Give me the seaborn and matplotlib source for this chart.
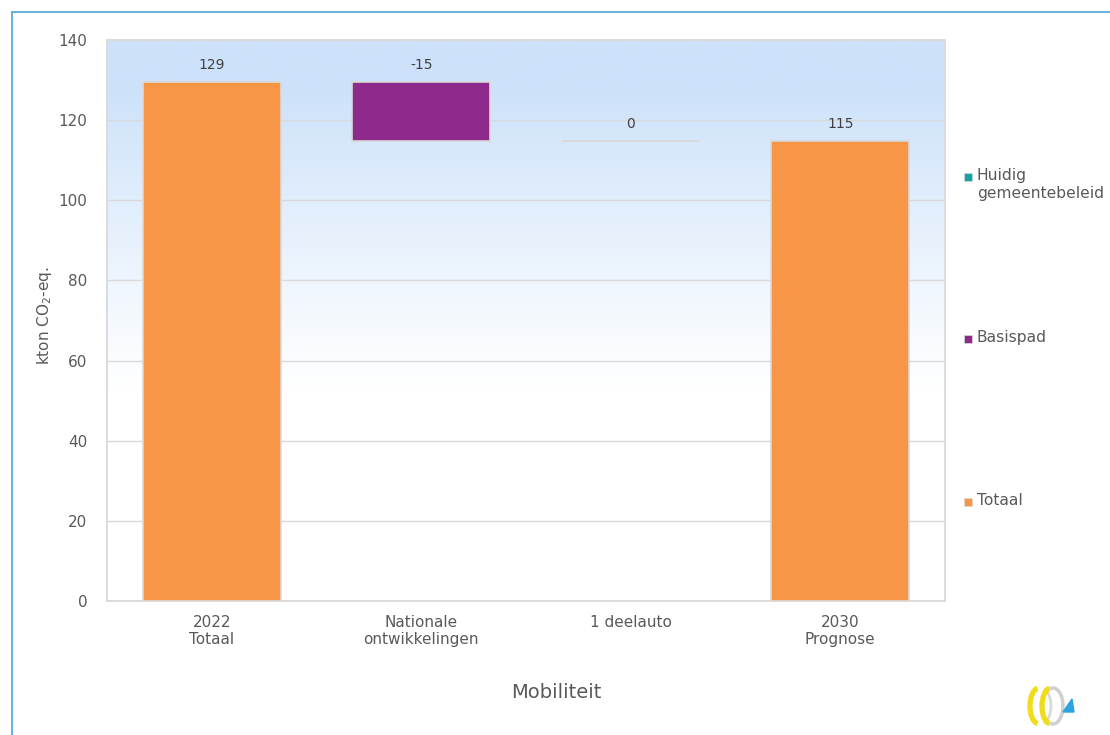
import numpy as np
import pandas as pd
import matplotlib
matplotlib.use("Agg")
import matplotlib.pyplot as plt
import seaborn as sns
from matplotlib.patches import Rectangle, Arc, Polygon
from matplotlib.lines import Line2D
from matplotlib.colors import LinearSegmentedColormap

# Waterfall data (kton CO2-eq.)
categories = ["2022\nTotaal", "Nationale\nontwikkelingen", "1 deelauto", "2030\nPrognose"]
series = ["Totaal", "Basispad", "Huidig gemeentebeleid", "Totaal"]
start_values = [0.0, 129.4, 114.8, 0.0]
delta_values = [129.4, -14.6, 0.0, 114.8]
y_ticks = [0, 20, 40, 60, 80, 100, 120, 140]
legend_labels = ["Huidig\ngemeentebeleid", "Basispad", "Totaal"]
legend_series = ["Huidig gemeentebeleid", "Basispad", "Totaal"]

palette = {
    "Totaal": "#f79646",
    "Basispad": "#8e2a8c",
    "Huidig gemeentebeleid": "#17a3a3",
}
TEXT = "#595959"
GRID = "#d9d9d9"

W, H = 1110, 735
sns.set_theme(style="white")
plt.rcParams["font.family"] = ["DejaVu Sans"]

fig = plt.figure(figsize=(W / 100, H / 100), dpi=100)
fig.patch.set_facecolor("white")


def px(x, y):
    return x / W, 1 - y / H


left, top = px(107, 40)
right, bottom = px(945, 601)
ax = fig.add_axes([left, bottom, right - left, top - bottom])

df = pd.DataFrame({"categorie": categories, "reeks": series,
                   "start": start_values, "delta": delta_values})

# floating bars, one per step
for _, row in df.iterrows():
    sns.barplot(x=[row["categorie"]], y=[row["delta"]], order=categories,
                color=palette[row["reeks"]], saturation=1, bottom=row["start"],
                width=0.66, edgecolor=GRID, linewidth=1.2, errorbar=None,
                ax=ax, zorder=3)

# value labels above each step
for i, row in df.iterrows():
    top_val = max(row["start"], row["start"] + row["delta"])
    ax.annotate(f"{round(row['delta']):d}", (i, top_val), xytext=(0, 12.5),
                textcoords="offset points", ha="center", va="center",
                fontsize=10, color="#404040", zorder=5)

# sky gradient behind the plot area
sky = LinearSegmentedColormap.from_list("sky", ["#ffffff", "#cde2fa"])
vals = np.linspace(0, 140, 512).reshape(-1, 1)
grad = np.clip((vals - 52) / (128 - 52), 0, 1) ** 1.1
ax.imshow(grad, extent=[-0.5, 3.5, 0, 140], origin="lower", aspect="auto",
          cmap=sky, vmin=0, vmax=1, zorder=0, interpolation="bilinear")

ax.set_xlim(-0.5, 3.5)
ax.set_ylim(0, 140)
ax.set_yticks(y_ticks)
ax.set_yticklabels([str(t) for t in y_ticks])
ax.set_axisbelow(True)
ax.yaxis.grid(True, color=GRID, linewidth=1.0)
ax.xaxis.grid(False)
for s in ax.spines.values():
    s.set_color(GRID)
    s.set_linewidth(1.3)
ax.set_xlabel("")
ax.set_ylabel("")
ax.tick_params(axis="y", length=0, pad=14, labelsize=11, labelcolor=TEXT)
ax.tick_params(axis="x", which="major", length=0, pad=10, labelsize=11, labelcolor=TEXT)
ax.set_xticks([-0.5, 0.5, 1.5, 2.5, 3.5], minor=True)
ax.tick_params(axis="x", which="minor", length=5, width=1.3, color=GRID)

# axis titles
fig.text(*px(45, 316), "kton CO$_2$-eq.", rotation=90, ha="center", va="center",
         fontsize=11, color=TEXT)
fig.text(*px(556, 693), "Mobiliteit", ha="center", va="center", fontsize=14, color=TEXT)

# legend entries spread along the right side
legend_y = [177, 339, 502]
for lab, ser, yy in zip(legend_labels, legend_series, legend_y):
    x0, y0 = px(964, yy + 4)
    fig.patches.append(Rectangle((x0, y0), 8 / W, 8 / H, transform=fig.transFigure,
                                 facecolor=palette[ser], edgecolor=GRID, linewidth=0.5))
    fig.text(*px(977, yy - 9), lab, ha="left", va="top", fontsize=11.2,
             color=TEXT, linespacing=1.25)

# frame lines
bx, by = px(12, 12)
fig.add_artist(Line2D([bx, bx], [0, by], transform=fig.transFigure, color="#4aa8d8", lw=1.2))
fig.add_artist(Line2D([bx, 1], [by, by], transform=fig.transFigure, color="#4aa8d8", lw=1.2))

# small logo mark, bottom right
lx0, ly0 = px(1015, 730)
lx1, ly1 = px(1080, 680)
lax = fig.add_axes([lx0, ly0, lx1 - lx0, ly1 - ly0])
lax.set_xlim(1015, 1080)
lax.set_ylim(730, 680)
lax.axis("off")
lax.add_patch(Arc((1053, 706), 20, 36, angle=0, theta1=-100, theta2=100,
                  color="#cfcfcf", lw=2.5))
lax.add_patch(Arc((1041, 706), 20, 36, angle=0, theta1=-80, theta2=80,
                  color="#d9d9d9", lw=2))
lax.add_patch(Arc((1039, 706), 18, 36, angle=0, theta1=95, theta2=265,
                  color="#f0dc1a", lw=3.8))
lax.add_patch(Arc((1051, 706), 18, 36, angle=0, theta1=95, theta2=265,
                  color="#f0dc1a", lw=3.8))
lax.add_patch(Polygon([(1063, 712), (1074, 712), (1072, 699)], closed=True,
                      color="#2aa3e0"))

fig.savefig("out.png", dpi=100, facecolor="white")
